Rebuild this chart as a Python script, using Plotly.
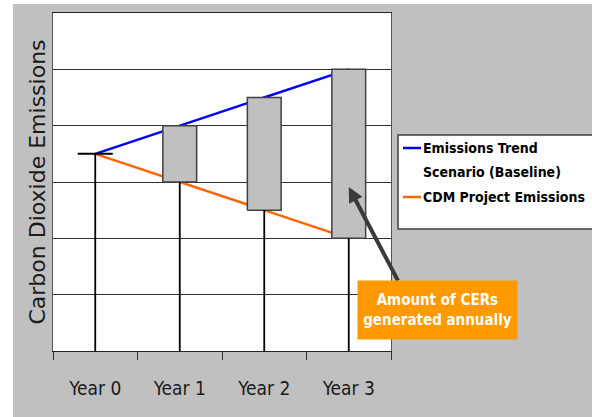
import plotly.graph_objects as go

categories = ["Year 0", "Year 1", "Year 2", "Year 3"]
baseline = [3.5, 4.0, 4.5, 5.0]      # Emissions Trend Scenario (Baseline)
project = [3.5, 3.0, 2.5, 2.0]       # CDM Project Emissions
series_names = ["Emissions Trend<br>Scenario (Baseline)", "CDM Project Emissions"]
y_range = [0, 6]

xs = list(range(len(categories)))
BOX_W = 0.4
COND = "DejaVu Sans Condensed, DejaVu Sans, sans-serif"

fig = go.Figure()

# trend lines (drawn first so the boxes sit on top)
fig.add_trace(go.Scatter(x=xs, y=baseline, mode="lines", name=series_names[0],
                         line=dict(color="#0000FF", width=2.5), showlegend=False, hoverinfo="skip"))
fig.add_trace(go.Scatter(x=xs, y=project, mode="lines", name=series_names[1],
                         line=dict(color="#FF6600", width=2.5), showlegend=False, hoverinfo="skip"))

# CER boxes between project and baseline
for i in xs[1:]:
    fig.add_trace(go.Scatter(
        x=[i - BOX_W / 2, i + BOX_W / 2, i + BOX_W / 2, i - BOX_W / 2, i - BOX_W / 2],
        y=[project[i], project[i], baseline[i], baseline[i], project[i]],
        mode="lines", fill="toself", fillcolor="#C0C0C0",
        line=dict(color="#404040", width=1.5), showlegend=False, hoverinfo="skip"))

# stems from axis up to project emissions
sx, sy = [], []
for i in xs:
    sx += [i, i, None]
    sy += [0, project[i], None]
fig.add_trace(go.Scatter(x=sx, y=sy, mode="lines", line=dict(color="#000000", width=1.8),
                         showlegend=False, hoverinfo="skip"))

# Year 0 starting dash
fig.add_trace(go.Scatter(x=[xs[0]], y=[project[0]], mode="markers",
                         marker=dict(symbol="line-ew", size=25, line=dict(color="#000000", width=2)),
                         showlegend=False, hoverinfo="skip"))

PX0, PY1, PW, PH = 53, 351, 338, 338
def px(x):
    return (x - PX0) / PW
def py(y):
    return (PY1 - y) / PH

shapes = [
    # white strips at left and top of the picture
    dict(type="rect", xref="paper", yref="paper", x0=px(-5), x1=px(13), y0=py(430), y1=py(-5),
         fillcolor="white", line=dict(width=0), layer="above"),
    dict(type="rect", xref="paper", yref="paper", x0=px(-5), x1=px(600), y0=py(4), y1=py(-5),
         fillcolor="white", line=dict(width=0), layer="above"),
    # legend box
    dict(type="rect", xref="paper", yref="paper", x0=px(398), x1=px(610), y0=py(229), y1=py(135),
         fillcolor="white", line=dict(color="#404040", width=1.5), layer="above"),
    dict(type="line", xref="paper", yref="paper", x0=px(403), x1=px(421), y0=py(148), y1=py(148),
         line=dict(color="#0000FF", width=2.5), layer="above"),
    dict(type="line", xref="paper", yref="paper", x0=px(403), x1=px(421), y0=py(197), y1=py(197),
         line=dict(color="#FF6600", width=2.5), layer="above"),
]

legend_font = dict(family=COND, size=14, color="#000000")
annotations = [
    dict(xref="paper", yref="paper", x=px(421), y=py(148), text="<b>Emissions Trend</b>",
         showarrow=False, xanchor="left", yanchor="middle", font=legend_font),
    dict(xref="paper", yref="paper", x=px(421), y=py(172), text="<b>Scenario (Baseline)</b>",
         showarrow=False, xanchor="left", yanchor="middle", font=legend_font),
    dict(xref="paper", yref="paper", x=px(421), y=py(197), text="<b>CDM Project Emissions</b>",
         showarrow=False, xanchor="left", yanchor="middle", font=legend_font),
    # arrow pointing into the Year 3 box
    dict(x=xs[3], y=2.91, xref="x", yref="y", text="", showarrow=True, ax=50, ay=95,
         arrowhead=2, arrowsize=0.75, arrowwidth=4, arrowcolor="#3A3A3A"),
    # callout box
    dict(xref="paper", yref="paper", x=px(437.5), y=py(310),
         text="<b>Amount of CERs</b><br><b>generated annually</b>",
         showarrow=False, xanchor="center", yanchor="middle", width=159, height=58,
         bgcolor="#FF9900", borderpad=0, font=dict(family=COND, size=15, color="white")),
]

fig.update_layout(
    width=592, height=417,
    margin=dict(l=53, r=201, t=13, b=66),
    paper_bgcolor="#C0C0C0", plot_bgcolor="white",
    showlegend=False,
    shapes=shapes, annotations=annotations,
    xaxis=dict(range=[-0.5, 3.5], tickmode="array", tickvals=xs, ticktext=categories,
               ticks="", showgrid=False, zeroline=False,
               showline=True, linecolor="#222222", linewidth=1, mirror=True,
               tickfont=dict(family=COND, size=19, color="#1A1A1A"),
               ticklabelstandoff=20,
               minor=dict(tickmode="array", tickvals=[-0.5, 0.5, 1.5, 2.5, 3.5], ticks="outside",
                          ticklen=8, tickcolor="#333333", tickwidth=1, showgrid=False),
               automargin=False, fixedrange=True),
    yaxis=dict(range=y_range, tickmode="linear", tick0=0, dtick=1, showticklabels=False, ticks="",
               showgrid=True, gridcolor="#303030", gridwidth=1, zeroline=False,
               showline=True, linecolor="#555555", linewidth=1, mirror=True,
               title=dict(text="Carbon Dioxide Emissions", standoff=0,
                          font=dict(family="DejaVu Sans", size=22, color="#1A1A1A")),
               automargin=False, fixedrange=True),
)

fig.write_html("out.html", config={"displayModeBar": False},
               post_script="document.body.style.margin='0px';document.body.style.overflow='hidden';")
